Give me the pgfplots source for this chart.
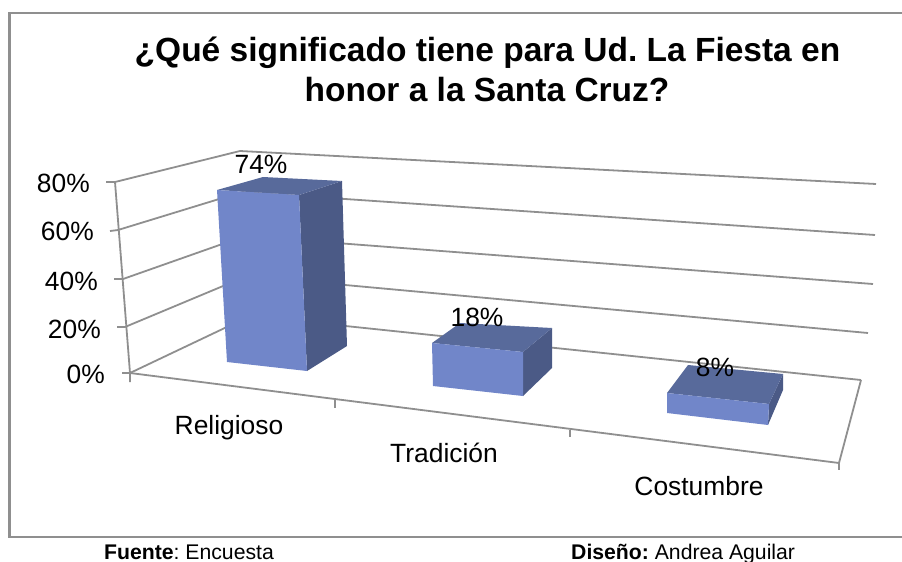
\documentclass[border=0pt]{standalone}
\usepackage{pgfplots}
\pgfplotsset{compat=1.18}
\usepackage{fontspec}
\setmainfont{Liberation Sans}
\frenchspacing
\definecolor{ln}{HTML}{8F8F8F}
\definecolor{front}{HTML}{7186C9}
\definecolor{topf}{HTML}{586A9B}
\definecolor{side}{HTML}{4B5A86}
\tikzset{
  grd/.style={draw=ln,line width=1.8bp},
  ff/.style={fill=front,draw=none},
  tf/.style={fill=topf,draw=none},
  sf/.style={fill=side,draw=none},
  lab/.style={anchor=base,inner sep=0pt,font=\fontsize{26.4bp}{30bp}\selectfont,text=black},
  labr/.style={anchor=base east,inner sep=0pt,font=\fontsize{26.4bp}{30bp}\selectfont,text=black},
  ttl/.style={anchor=base,inner sep=0pt,font=\fontsize{33.5bp}{38bp}\selectfont\bfseries,text=black},
  foot/.style={anchor=base west,inner sep=0pt,font=\fontsize{21.2bp}{25bp}\selectfont,text=black}
}
\begin{document}
\begin{tikzpicture}
\begin{axis}[
  at={(0,0)},anchor=south west,
  scale only axis,width=902bp,height=562bp,
  xmin=0,xmax=902,ymin=0,ymax=562,y dir=reverse,
  hide axis,clip=false]
% frame
\addplot[draw=ln,line width=2.2bp] coordinates {(902,13) (9.5,13) (9.5,537) (902,537)};
% grid: 0, 20, 40, 60, 80
\addplot[grd] coordinates {(122,373) (130,373) (250,316) (861,380)};
\addplot[grd] coordinates {(117,327) (125,327) (247,276) (868,333)};
\addplot[grd] coordinates {(114,279) (123,279) (245,236) (873,284)};
\addplot[grd] coordinates {(110,231) (118,230) (242,192) (875,235)};
\addplot[grd] coordinates {(106,182) (115,182) (240,151) (876,184)};
% axis lines
\addplot[grd] coordinates {(115,182) (130,373)};
\addplot[grd] coordinates {(130,382) (130,373) (839,463) (861,380)};
\addplot[grd] coordinates {(335,400) (335,408)};
\addplot[grd] coordinates {(570,430) (570,437)};
\addplot[grd] coordinates {(839,463) (839,470)};
% Religioso
\addplot[sf] coordinates {(299,195) (342,181) (347,346) (307,371)};
\addplot[tf] coordinates {(217,190) (263,177) (342,181) (299,195)};
\addplot[ff] coordinates {(217,190) (299,195) (307,371) (227,362)};
% Tradicion
\addplot[sf] coordinates {(523,352) (552,328) (552,368) (523,396)};
\addplot[tf] coordinates {(432,343) (460,323) (552,328) (523,352)};
\addplot[ff] coordinates {(432,343) (523,352) (523,396) (433,386)};
% Costumbre
\addplot[sf] coordinates {(769,404) (783,374) (783,390) (768,425)};
\addplot[tf] coordinates {(667,393) (688,365) (783,374) (769,404)};
\addplot[ff] coordinates {(667,393) (769,404) (768,425) (667,413)};
% text
\node[ttl] at (axis cs:487.5,62) {¿Qué significado tiene para Ud. La Fiesta en};
\node[ttl] at (axis cs:487,101) {honor a la Santa Cruz?};
\node[labr] at (axis cs:90,192) {80\%};
\node[labr] at (axis cs:94,240) {60\%};
\node[labr] at (axis cs:98,290) {40\%};
\node[labr] at (axis cs:101,338) {20\%};
\node[labr] at (axis cs:105,383) {0\%};
\node[lab] at (axis cs:229,434) {Religioso};
\node[lab] at (axis cs:444,462) {Tradición};
\node[lab] at (axis cs:699,495) {Costumbre};
\node[lab] at (axis cs:261,173) {74\%};
\node[lab] at (axis cs:477,326) {18\%};
\node[lab] at (axis cs:715,376) {8\%};
\node[foot] at (axis cs:104,559) {\textbf{Fuente}: Encuesta};
\node[foot] at (axis cs:571,559) {\textbf{Diseño:} Andrea Aguilar};
\end{axis}
\pgfresetboundingbox
\path[use as bounding box] (0,0) rectangle (902bp,562bp);
\end{tikzpicture}
\end{document}
